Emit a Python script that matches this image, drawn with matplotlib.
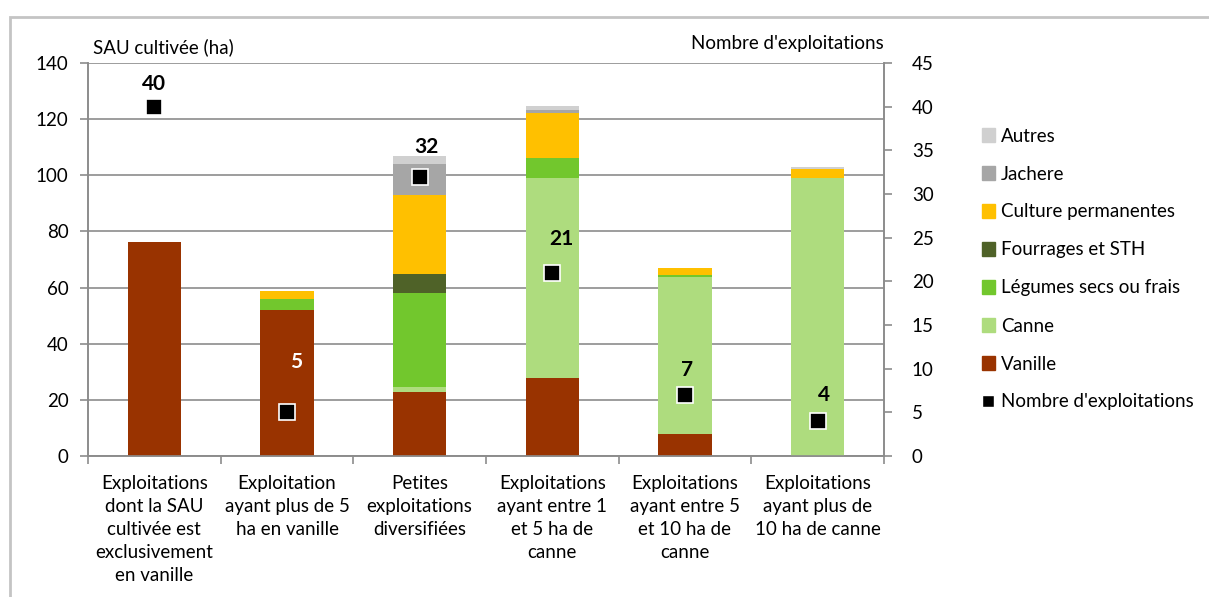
import matplotlib.pyplot as plt
from matplotlib.patches import Rectangle
from matplotlib.lines import Line2D
import numpy as np

plt.rcParams['font.family'] = ['Lato', 'DejaVu Sans']

categories = [
    "Exploitations\ndont la SAU\ncultivée est\nexclusivement\nen vanille",
    "Exploitation\nayant plus de 5\nha en vanille",
    "Petites\nexploitations\ndiversifiées",
    "Exploitations\nayant entre 1\net 5 ha de\ncanne",
    "Exploitations\nayant entre 5\net 10 ha de\ncanne",
    "Exploitations\nayant plus de\n10 ha de canne",
]

vanille = [76.3, 52.1, 22.7, 27.7, 7.8, 0.0]
canne = [0.0, 0.0, 1.9, 71.5, 56.1, 99.2]
legumes = [0.0, 3.8, 33.5, 7.1, 0.7, 0.0]
fourrages = [0.0, 0.0, 6.7, 0.0, 0.0, 0.0]
culture_perm = [0.0, 2.9, 28.2, 15.9, 2.4, 3.2]
jachere = [0.0, 0.0, 11.1, 0.9, 0.0, 0.0]
autres = [0.0, 0.0, 2.8, 1.5, 0.0, 0.6]

nb_exploitations = [40, 5, 32, 21, 7, 4]

series = [
    ("Vanille", vanille, "#993300"),
    ("Canne", canne, "#AEDC7E"),
    ("Légumes secs ou frais", legumes, "#72C72D"),
    ("Fourrages et STH", fourrages, "#4F6228"),
    ("Culture permanentes", culture_perm, "#FFC000"),
    ("Jachere", jachere, "#A6A6A6"),
    ("Autres", autres, "#D0D0D0"),
]

FS = 13.5
W, H = 1209, 597
fig = plt.figure(figsize=(W / 100, H / 100), dpi=100)

# outer chart frame
fig.patches.append(Rectangle((10 / W, -0.01), 1.1, (H - 17) / H + 0.01,
                             transform=fig.transFigure, fill=False,
                             edgecolor="#C4C4C4", linewidth=2.0))

left, right, top, bottom = 88, 884, 63, 456
ax = fig.add_axes([left / W, 1 - bottom / H, (right - left) / W, (bottom - top) / H])
ax2 = ax.twinx()

x = np.arange(len(categories))
bottoms = np.zeros(len(categories))
for name, vals, col in series:
    ax.bar(x, vals, width=0.40, bottom=bottoms, color=col, label=name, zorder=3,
           linewidth=0)
    bottoms += np.array(vals)

ax.set_xlim(-0.5, len(categories) - 0.5)
ax.set_ylim(0, 140)
ax.set_yticks(np.arange(0, 141, 20))
ax.grid(axis="y", color="#8C8C8C", linewidth=1.2, zorder=0)
ax.set_axisbelow(True)

ax.set_xticks(x)
ax.set_xticklabels(categories, fontsize=FS, linespacing=1.42)
ax.tick_params(axis="x", length=0, pad=14)
ax.set_xticks(np.arange(-0.5, len(categories), 1.0), minor=True)
ax.tick_params(axis="x", which="minor", length=6, color="#8C8C8C", width=1.2)
ax.tick_params(axis="y", length=6, color="#8C8C8C", width=1.2, labelsize=FS, pad=8)

for a in (ax, ax2):
    for s in a.spines.values():
        s.set_color("#8C8C8C")
        s.set_linewidth(1.2)
    a.spines["top"].set_visible(False)

ax2.set_ylim(0, 45)
ax2.set_yticks(np.arange(0, 46, 5))
ax2.tick_params(axis="y", length=6, color="#8C8C8C", width=1.2, labelsize=FS, pad=14)

ax2.plot(x, nb_exploitations, linestyle="none", marker="s", markersize=11.5,
         markerfacecolor="black", markeredgecolor="white", markeredgewidth=1.2,
         zorder=5, clip_on=False)

label_offsets = [(0, 16.5), (6.5, 36.5), (5, 21.5), (6.5, 24.5), (1.5, 18), (4.5, 18.5)]
label_colors = ["black", "white", "black", "black", "black", "black"]
for xi, v, off, c in zip(x, nb_exploitations, label_offsets, label_colors):
    ax2.annotate(str(v), (xi, v), xytext=off, textcoords="offset points",
                 ha="center", va="center", fontsize=15, fontweight="bold",
                 color=c, zorder=6)

fig.text(93 / W, 1 - 47 / H, "SAU cultivée (ha)", fontsize=FS, va="center", ha="left")
fig.text(884 / W, 1 - 44 / H, "Nombre d'exploitations", fontsize=FS, va="center", ha="right")

handles = [Rectangle((0, 0), 1, 1, color=col) for _, _, col in series][::-1]
labels = [name for name, _, _ in series][::-1]
handles.append(Line2D([0], [0], linestyle="none", marker="s", markersize=9,
                      markerfacecolor="black", markeredgecolor="white"))
labels.append("Nombre d'exploitations")
fig.legend(handles, labels, loc="upper left", bbox_to_anchor=(974 / W, 1 - 120 / H),
           frameon=False, fontsize=FS, handlelength=0.7, handleheight=0.7,
           handletextpad=0.35, labelspacing=1.12, borderaxespad=0)

fig.savefig("out.png", dpi=100)
